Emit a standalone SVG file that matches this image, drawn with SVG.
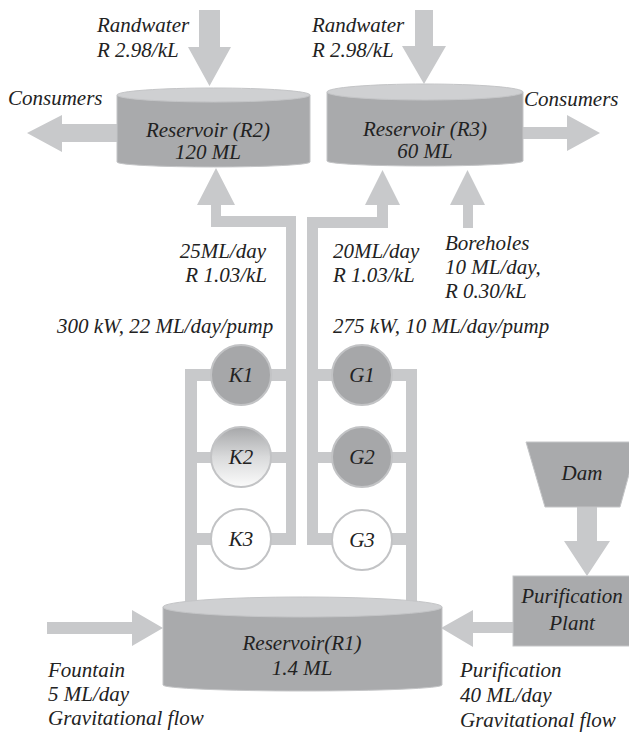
<svg xmlns="http://www.w3.org/2000/svg" width="629" height="732" viewBox="0 0 629 732">
<defs>
<style>
.p{fill:#c8c9cb}
.body{fill:#a9aaac;stroke:#c4c5c7;stroke-width:1}
.top{fill:#cfd0d2;stroke:#c4c5c7;stroke-width:1}
.pumpd{fill:#a6a7a9;stroke:#c2c3c5;stroke-width:2}
.pumpw{fill:#ffffff;stroke:#c2c3c5;stroke-width:2}
.t{font-family:"Liberation Serif","Times New Roman",serif;font-style:italic;font-size:21px;fill:#222}
.m{text-anchor:middle}
.e{text-anchor:end}
</style>
<linearGradient id="k2g" x1="0" y1="0" x2="0" y2="1">
<stop offset="0" stop-color="#a6a7a9"/>
<stop offset="0.5" stop-color="#d9dadb"/>
<stop offset="1" stop-color="#fbfbfb"/>
</linearGradient>
</defs>
<rect width="629" height="732" fill="#fff"/>
<g id="connectors">
<polygon class="p" points="199,10 220,10 220,47 231,47 209.5,86 188,47 199,47"/>
<polygon class="p" points="415,10 433,10 433,46 446,46 424,84 402,46 415,46"/>
<polygon class="p" points="117,124 62,124 62,115 27,133 62,152 62,142 117,142"/>
<polygon class="p" points="523,127 567,127 567,115 600,133 567,151 567,139 523,139"/>
<polygon class="p" points="211,227 211,205 197,205 216,168 235,205 221,205 221,216 296,216 296,545 286,545 286,227"/>
<rect class="p" x="185" y="369" width="12" height="233"/>
<rect class="p" x="185" y="369" width="27" height="12"/>
<rect class="p" x="185" y="452" width="27" height="11"/>
<rect class="p" x="185" y="533" width="27" height="12"/>
<rect class="p" x="268" y="369" width="20" height="12"/>
<rect class="p" x="268" y="452" width="20" height="11"/>
<rect class="p" x="268" y="533" width="20" height="12"/>
<polygon class="p" points="307,545 307,217 377,217 377,205 365,205 382.5,170 400,205 388,205 388,228 318,228 318,545"/>
<rect class="p" x="316" y="369" width="18" height="12"/>
<rect class="p" x="316" y="452" width="18" height="11"/>
<rect class="p" x="316" y="533" width="18" height="12"/>
<rect class="p" x="406" y="369" width="11" height="233"/>
<rect class="p" x="390" y="369" width="27" height="12"/>
<rect class="p" x="390" y="452" width="18" height="11"/>
<rect class="p" x="390" y="533" width="18" height="12"/>
<polygon class="p" points="463,228 463,205 450,205 467.5,170 485,205 473,205 473,228"/>
<polygon class="p" points="47,622 132,622 132,610 163,628 132,646 132,634 47,634"/>
<polygon class="p" points="513,622 473,622 473,610 441,628 473,647 473,633 513,633"/>
<polygon class="p" points="577,507 597,507 597,541 610,541 587,576 564,541 577,541"/>
</g>
<g id="R2">
<path class="body" d="M117,95 L117,162 A96.5,5 0 0 0 310,162 L310,95 Z"/>
<ellipse class="top" cx="213.5" cy="95" rx="96.5" ry="7"/>
<text class="t m" x="208" y="137">Reservoir (R2)</text>
<text class="t m" x="208" y="159">120 ML</text>
</g>
<g id="R3">
<path class="body" d="M327,92 L327,161 A98,5 0 0 0 523,161 L523,92 Z"/>
<ellipse class="top" cx="425" cy="92" rx="98" ry="8"/>
<text class="t m" x="425" y="136">Reservoir (R3)</text>
<text class="t m" x="425" y="158">60 ML</text>
</g>
<g id="R1">
<path class="body" d="M163,607 L163,685 A139.5,6 0 0 0 442,685 L442,607 Z"/>
<ellipse class="top" cx="302.5" cy="607" rx="139.5" ry="10"/>
<text class="t m" x="302" y="650">Reservoir(R1)</text>
<text class="t m" x="302" y="675">1.4 ML</text>
</g>
<g id="K1"><circle class="pumpd" cx="241" cy="375" r="30"/><text class="t m" x="241" y="382">K1</text></g>
<g id="K2"><circle cx="241" cy="457" r="30" fill="url(#k2g)" stroke="#c2c3c5" stroke-width="2"/><text class="t m" x="241" y="464">K2</text></g>
<g id="K3"><circle class="pumpw" cx="241" cy="539" r="30"/><text class="t m" x="241" y="546">K3</text></g>
<g id="G1"><circle class="pumpd" cx="362" cy="375" r="30"/><text class="t m" x="362" y="382">G1</text></g>
<g id="G2"><circle class="pumpd" cx="362" cy="457" r="30"/><text class="t m" x="362" y="464">G2</text></g>
<g id="G3"><circle class="pumpw" cx="362" cy="540" r="30"/><text class="t m" x="362" y="547">G3</text></g>
<g id="Dam">
<polygon class="body" points="526,442 638,442 620,507 545,507"/>
<text class="t m" x="582" y="480">Dam</text>
</g>
<g id="Plant">
<rect class="body" x="513" y="576" width="120" height="70"/>
<text class="t m" x="572" y="603">Purification</text>
<text class="t m" x="572" y="630">Plant</text>
</g>
<g id="labels">
<text class="t" x="97" y="32">Randwater</text>
<text class="t" x="97" y="57">R 2.98/kL</text>
<text class="t" x="312" y="32">Randwater</text>
<text class="t" x="312" y="57">R 2.98/kL</text>
<text class="t" x="8" y="105">Consumers</text>
<text class="t" x="524" y="106">Consumers</text>
<text class="t e" x="266" y="258">25ML/day</text>
<text class="t e" x="267" y="282">R 1.03/kL</text>
<text class="t" x="333" y="258">20ML/day</text>
<text class="t" x="333" y="282">R 1.03/kL</text>
<text class="t" x="445" y="250">Boreholes</text>
<text class="t" x="445" y="274">10 ML/day,</text>
<text class="t" x="445" y="298">R 0.30/kL</text>
<text class="t" x="57" y="333">300 kW, 22 ML/day/pump</text>
<text class="t" x="333" y="333">275 kW, 10 ML/day/pump</text>
<text class="t" x="48" y="677">Fountain</text>
<text class="t" x="48" y="701">5 ML/day</text>
<text class="t" x="48" y="725">Gravitational flow</text>
<text class="t" x="460" y="677">Purification</text>
<text class="t" x="460" y="702">40 ML/day</text>
<text class="t" x="460" y="727">Gravitational flow</text>
</g>
</svg>
